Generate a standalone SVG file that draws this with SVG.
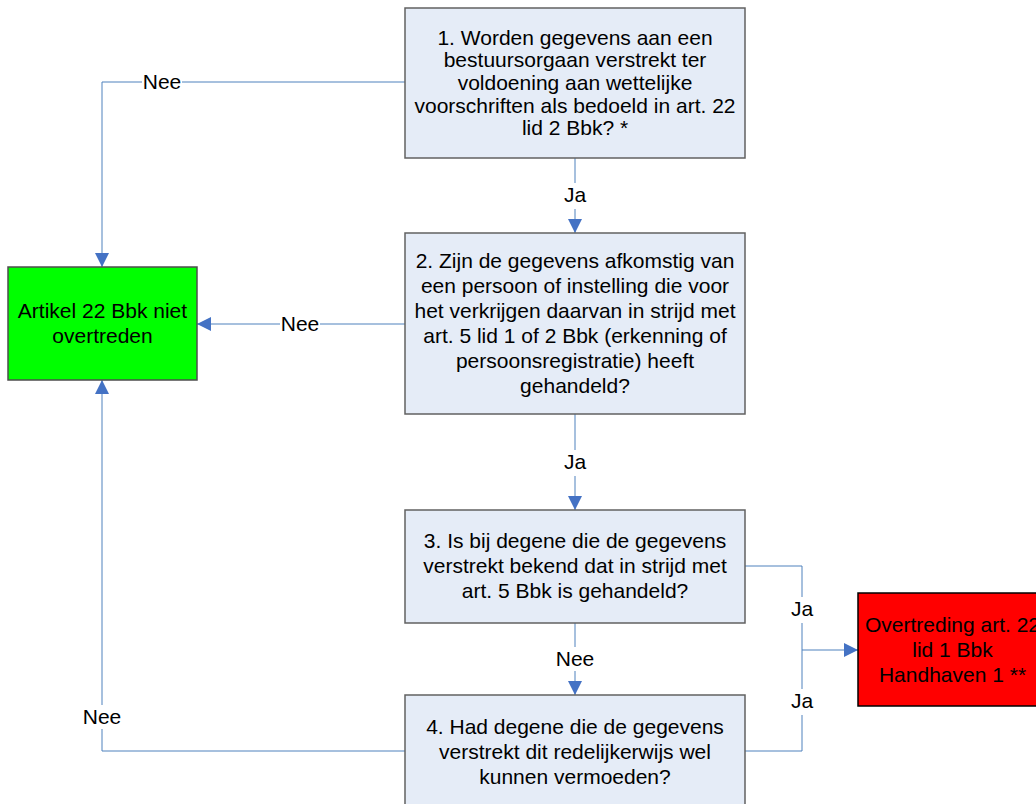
<svg xmlns="http://www.w3.org/2000/svg" width="1036" height="804" viewBox="0 0 1036 804">
<defs>
<style>
.box{fill:#E5ECF7;stroke:#616161;stroke-width:1.5}
.t{font-family:"Liberation Sans",Arial,sans-serif;font-size:21px;fill:#000;text-anchor:middle}
.c{fill:none;stroke:#4F81BD;stroke-width:1}
.bg{fill:#fff}
</style>
<marker id="ah" markerWidth="14" markerHeight="14" refX="14" refY="7" orient="auto" markerUnits="userSpaceOnUse">
<path d="M0,0 L14,7 L0,14 Z" fill="#4472C4"/>
</marker>
</defs>
<rect width="1036" height="804" fill="#fff"/>
<g id="connectors">
<path class="c" d="M405,82 H102 V267" marker-end="url(#ah)"/>
<path class="c" d="M575,158 V233" marker-end="url(#ah)"/>
<path class="c" d="M405,324 H197" marker-end="url(#ah)"/>
<path class="c" d="M575,414 V510" marker-end="url(#ah)"/>
<path class="c" d="M575,623 V695" marker-end="url(#ah)"/>
<path class="c" d="M745,566 H802 V650"/>
<path class="c" d="M745,751 H802 V650"/>
<path class="c" d="M802,650 H858" marker-end="url(#ah)"/>
<path class="c" d="M405,751 H102 V380" marker-end="url(#ah)"/>
<rect class="bg" x="142" y="70" width="40" height="24"/>
<text class="t" x="162" y="89">Nee</text>
<rect class="bg" x="560" y="183" width="30" height="26"/>
<text class="t" x="575" y="202">Ja</text>
<rect class="bg" x="280" y="312" width="40" height="24"/>
<text class="t" x="300" y="331">Nee</text>
<rect class="bg" x="560" y="450" width="30" height="26"/>
<text class="t" x="575" y="469">Ja</text>
<rect class="bg" x="555" y="647" width="40" height="24"/>
<text class="t" x="575" y="666">Nee</text>
<rect class="bg" x="787" y="597" width="30" height="26"/>
<text class="t" x="802" y="616">Ja</text>
<rect class="bg" x="787" y="689" width="30" height="26"/>
<text class="t" x="802" y="708">Ja</text>
<rect class="bg" x="82" y="705" width="40" height="24"/>
<text class="t" x="102" y="724">Nee</text>
</g>
<g id="q1">
<rect class="box" x="405" y="8" width="340" height="150"/>
<text class="t" x="575" y="44.5">1. Worden gegevens aan een</text>
<text class="t" x="575" y="67.2">bestuursorgaan verstrekt ter</text>
<text class="t" x="575" y="89.9">voldoening aan wettelijke</text>
<text class="t" x="575" y="112.6">voorschriften als bedoeld in art. 22</text>
<text class="t" x="575" y="135.3">lid 2 Bbk? *</text>
</g>
<g id="q2">
<rect class="box" x="405" y="233" width="340" height="181"/>
<text class="t" x="575" y="268">2. Zijn de gegevens afkomstig van</text>
<text class="t" x="575" y="293">een persoon of instelling die voor</text>
<text class="t" x="575" y="318">het verkrijgen daarvan in strijd met</text>
<text class="t" x="575" y="343">art. 5 lid 1 of 2 Bbk (erkenning of</text>
<text class="t" x="575" y="368">persoonsregistratie) heeft</text>
<text class="t" x="575" y="393">gehandeld?</text>
</g>
<g id="q3">
<rect class="box" x="405" y="510" width="340" height="113"/>
<text class="t" x="575" y="548">3. Is bij degene die de gegevens</text>
<text class="t" x="575" y="573">verstrekt bekend dat in strijd met</text>
<text class="t" x="575" y="598">art. 5 Bbk is gehandeld?</text>
</g>
<g id="q4">
<rect class="box" x="405" y="695" width="340" height="113"/>
<text class="t" x="575" y="734">4. Had degene die de gegevens</text>
<text class="t" x="575" y="759">verstrekt dit redelijkerwijs wel</text>
<text class="t" x="575" y="784">kunnen vermoeden?</text>
</g>
<g id="niet-overtreden">
<rect x="8" y="267" width="189" height="113" fill="#00FF00" stroke="#4d4d4d" stroke-width="1.5"/>
<text class="t" x="102.5" y="318">Artikel 22 Bbk niet</text>
<text class="t" x="102.5" y="343">overtreden</text>
</g>
<g id="overtreding">
<rect x="858" y="593" width="189" height="113" fill="#FF0000" stroke="#000" stroke-width="1.5"/>
<text class="t" x="952.5" y="632">Overtreding art. 22</text>
<text class="t" x="952.5" y="657">lid 1 Bbk</text>
<text class="t" x="952.5" y="682">Handhaven 1 **</text>
</g>
</svg>
